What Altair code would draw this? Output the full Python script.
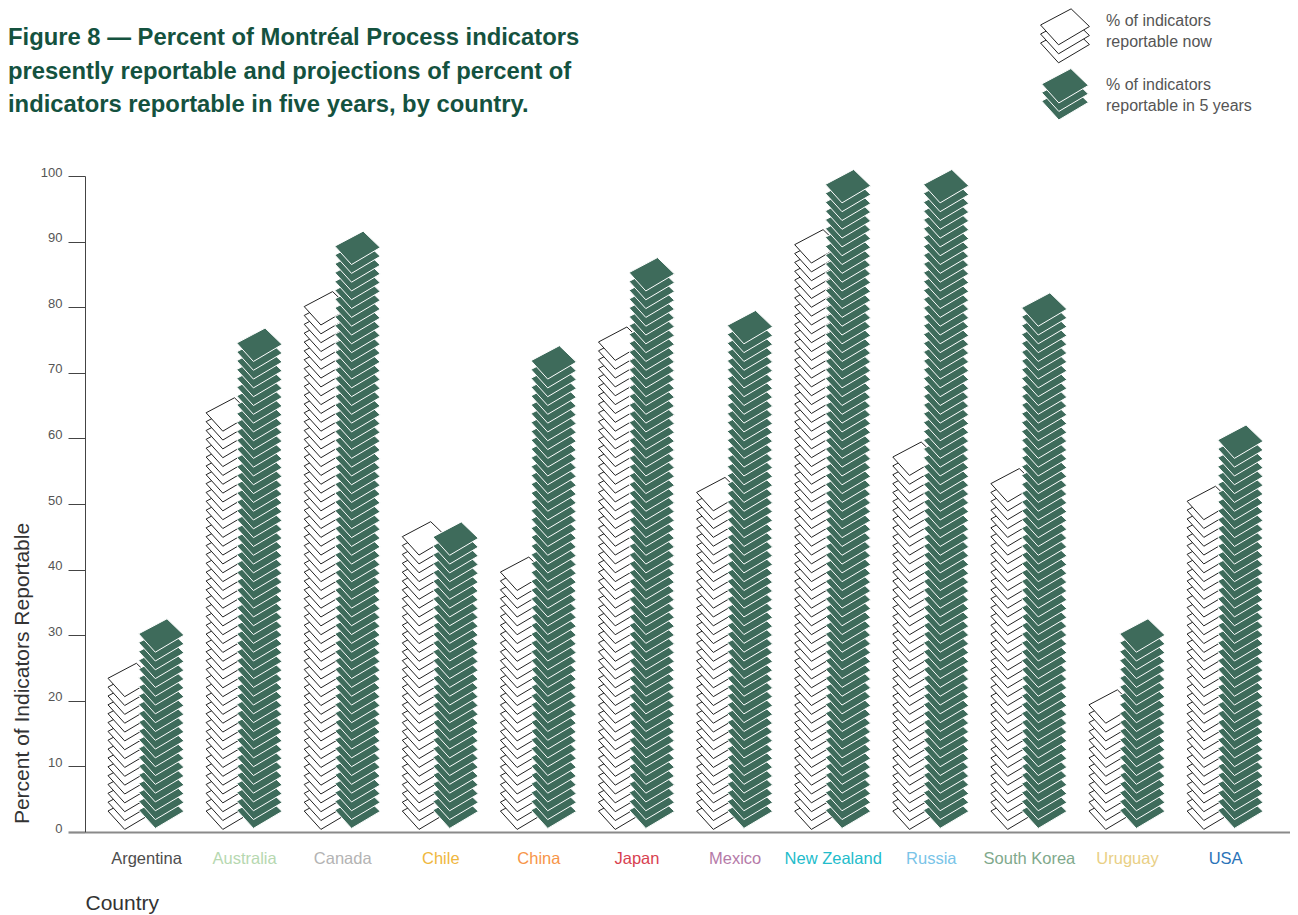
import altair as alt
import pandas as pd

countries = ["Argentina", "Australia", "Canada", "Chile", "China", "Japan", "Mexico",
             "New Zealand", "Russia", "South Korea", "Uruguay", "USA"]
now_pct = [23.5, 63.9, 79.5, 44.9, 39.5, 74.5, 51.7, 89.2, 56.6, 52.6, 18.9, 50.0]
future_pct = [30.1, 74.5, 89.3, 44.8, 71.9, 85.4, 77.1, 98.8, 98.8, 79.7, 30.1, 60.2]
label_colors = ["#4d4d4d", "#b6d8b0", "#b3b3b3", "#efb73e", "#f79548", "#d8414f", "#b57aa8",
                "#22bccb", "#79c4e8", "#7fa98c", "#e9cf85", "#2a73b8"]
y_ticks = [0, 10, 20, 30, 40, 50, 60, 70, 80, 90, 100]

GREEN = "#3e6b5b"
TITLE_GREEN = "#14523f"
GREY = "#555555"


def sheets(values, first, step):
    rows = []
    for country, value in zip(countries, values):
        n = round((value - first) / step) + 1
        for k in range(n):
            rows.append({"country": country, "pct": first + k * step, "k": k})
    return pd.DataFrame(rows)


# sheet outline, drawn around its anchor (1 unit = 50 px at size 10000)
SHEET = "M-0.454 0L0.114 -0.30L0.454 0.028L-0.12 0.368Z"

color_expr = "{" + ",".join(f"'{c}':'{k}'" for c, k in zip(countries, label_colors)) + "}[datum.label]"

x_enc = alt.X(
    "country:N", sort=countries,
    scale=alt.Scale(type="point", padding=0.6417, align=0.4845),
    axis=alt.Axis(
        title="Country", titleFont="Liberation Sans", titleFontSize=21, titleFontWeight="normal",
        titleColor="#333333", titleX=0, titleY=60, titleAnchor="start", titleAlign="left",
        labelFont="Liberation Sans", labelFontSize=16.5, labelAngle=0, labelPadding=18,
        labelColor=alt.expr(color_expr), ticks=False, domainColor="#8a8a8a", domainWidth=2.2,
        labelFontWeight=300,
    ),
)
y_enc = alt.Y(
    "pct:Q", scale=alt.Scale(domain=[0, 100], nice=False),
    axis=alt.Axis(
        values=y_ticks, title="Percent of Indicators Reportable", titleFont="Liberation Sans",
        titleFontSize=21, titleFontWeight="normal", titleColor="#333333", titleX=-53, titleY=497,
        titleAnchor="middle", labelFont="Liberation Sans", labelFontSize=13, labelColor=GREY,
        labelPadding=6, tickSize=17,
        tickColor=alt.expr("datum.value === 0 ? '#8a8a8a' : '#444444'"),
        tickWidth=alt.expr("datum.value === 0 ? 2.2 : 1"),
        domainColor="#444444", domainWidth=1, grid=False, labelBaseline="middle", labelOffset=-4,
    ),
)


def stack(values, first, step, fill, stroke, offset):
    return alt.Chart(sheets(values, first, step)).mark_point(
        shape=SHEET, filled=True, fill=fill, stroke=stroke, strokeWidth=1, size=10000,
        opacity=1, xOffset=offset,
    ).encode(x=x_enc, y=y_enc, order=alt.Order("k:Q"))


def legend_sheet(fill, stroke, y, size):
    return alt.Chart(alt.Data(values=[{"a": 1}])).mark_point(
        shape=SHEET, filled=True, fill=fill, stroke=stroke, strokeWidth=1, size=size, opacity=1,
    ).encode(x=alt.value(980), y=alt.value(y))


def legend_text(label, y):
    return alt.Chart(alt.Data(values=[{"label": label}])).mark_text(
        align="left", baseline="middle", font="Liberation Sans", fontSize=16, color=GREY,
    ).encode(x=alt.value(1021), y=alt.value(y), text="label:N")


layers = [stack(now_pct, 3.2, 1.349, "white", "#222222", -15.3),
          stack(future_pct, 3.354, 1.343, GREEN, "white", 15.3)]
layers += [legend_sheet("white", "#222222", y, 11600) for y in (-133, -142, -151)]
layers += [legend_sheet(GREEN, "white", y, 10600) for y in (-75, -83.5, -92)]
layers += [
    legend_text("% of indicators", -155),
    legend_text("reportable now", -134),
    legend_text("% of indicators", -91),
    legend_text("reportable in 5 years", -70),
]

chart = alt.layer(*layers).properties(
    width=1205, height=656,
    padding={"left": 77, "top": 168, "right": 0, "bottom": 82},
    autosize=alt.AutoSizeParams(type="none"),
    title=alt.TitleParams(
        text=["Figure 8 — Percent of Montréal Process indicators",
              "presently reportable and projections of percent of",
              "indicators reportable in five years, by country."],
        anchor="start", frame="group", dx=-77, offset=-110, font="Liberation Sans", fontSize=23.8,
        fontWeight="bold", color=TITLE_GREEN, lineHeight=33.5,
    ),
).configure_view(stroke=None)

chart.save("out.html", embed_options={"renderer": "svg", "actions": False})
